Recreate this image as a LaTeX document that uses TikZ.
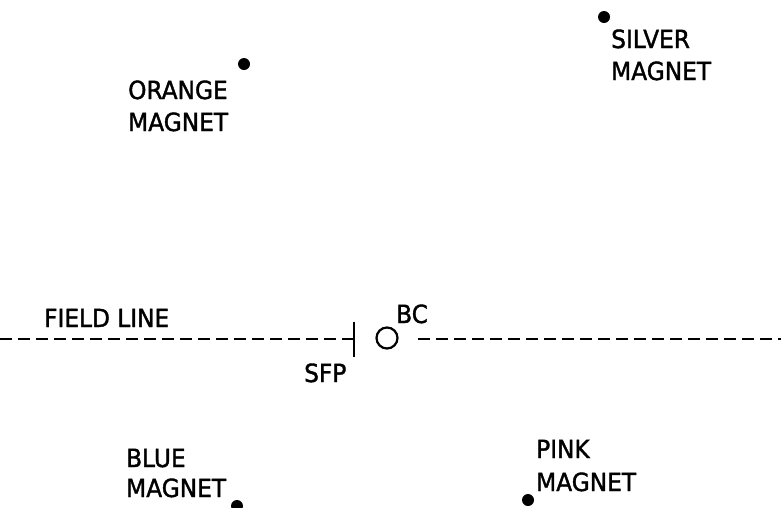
\documentclass[tikz,border=0pt]{standalone}
\usepackage{fontspec}
\setmainfont{DejaVu Sans}[FakeBold=1.5,FakeStretch=0.93]
\begin{document}
\begin{tikzpicture}[x=1pt,y=-1pt,
  lbl/.style={anchor=base west,inner sep=0pt,font=\fontsize{25}{32}\selectfont,align=left},
  magdot/.style={circle,fill=black,inner sep=0pt,minimum size=12pt},
  fline/.style={line width=2.2pt,dash pattern=on 12pt off 6pt},
  tick/.style={line width=2.2pt}]
\useasboundingbox (0,0) rectangle (781,507);
% magnets
\node[magdot] (orangedot) at (244,64) {};
\node[lbl] (orange1) at (128,99) {ORANGE};
\node[lbl] (orange2) at (128,131) {MAGNET};
\node[magdot] (silverdot) at (604,17) {};
\node[lbl] (silver1) at (611,48) {SILVER};
\node[lbl] (silver2) at (611,80) {MAGNET};
\node[magdot] (bluedot) at (237,506) {};
\node[lbl] (blue1) at (126,467) {BLUE};
\node[lbl] (blue2) at (126,497) {MAGNET};
\node[magdot] (pinkdot) at (528,500) {};
\node[lbl] (pink1) at (536,458) {PINK};
\node[lbl] (pink2) at (536,491) {MAGNET};
% field line
\coordinate (fl0) at (0,339);
\coordinate (sfpc) at (354,339);
\coordinate (sfptop) at (354,322);
\coordinate (sfpbot) at (354,357);
\coordinate (fl1) at (418,339);
\coordinate (fl2) at (781,339);
\draw[fline] (fl0) -- (sfpc);
\draw[tick] (sfptop) -- (sfpbot);
\draw[fline] (fl1) -- (fl2);
\node[circle,draw,line width=2.2pt,minimum size=21pt,inner sep=0pt] (bc) at (387,338) {};
\node[lbl] (bclbl) at (396,323) {BC};
\node[lbl] (sfplbl) at (304,382) {SFP};
\node[lbl] (fllbl) at (44,327) {FIELD LINE};
\end{tikzpicture}
\end{document}
